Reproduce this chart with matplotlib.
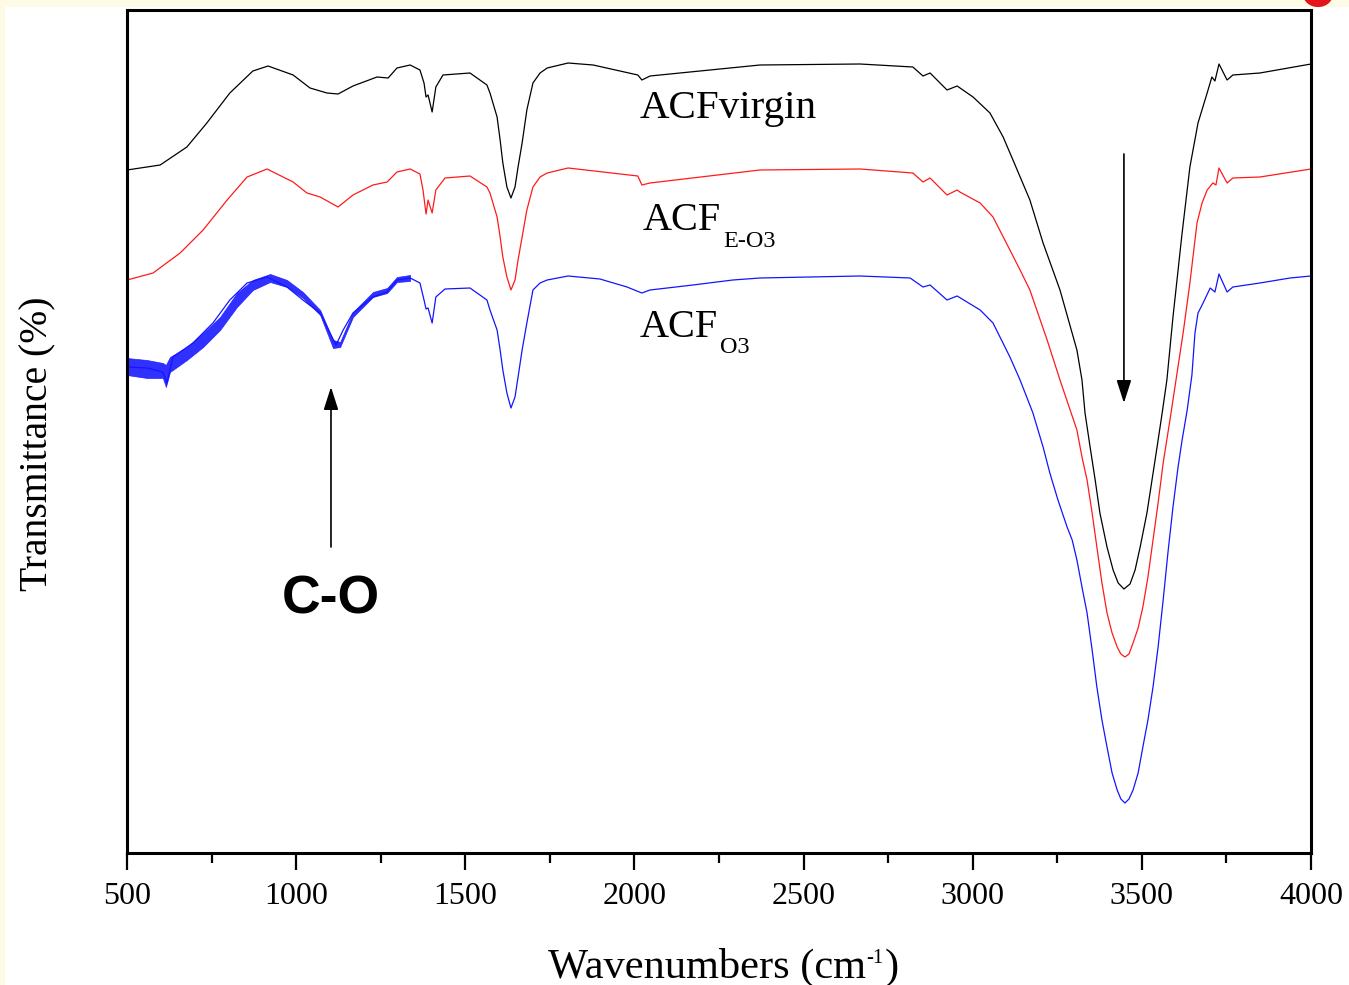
import matplotlib
matplotlib.use("Agg")
import matplotlib.pyplot as plt
from matplotlib.patches import Rectangle, Ellipse

SERIF = "Liberation Serif"
plt.rcParams["font.family"] = SERIF

# FTIR spectra (wavenumber cm-1, transmittance in arbitrary %)
virgin_w = [500, 598, 677, 736, 804, 872, 917, 991, 1041, 1091, 1124, 1168, 1239, 1272,
            1298, 1337, 1366, 1378, 1384, 1390, 1402, 1413, 1434, 1514, 1564, 1573, 1594,
            1603, 1611, 1623, 1635, 1647, 1656, 1668, 1682, 1700, 1721, 1742, 1804, 1878,
            2010, 2022, 2046, 2371, 2667, 2823, 2853, 2874, 2924, 2954, 3001, 3051, 3090,
            3119, 3169, 3208, 3258, 3308, 3323, 3332, 3347, 3362, 3376, 3397, 3415, 3430,
            3447, 3465, 3480, 3495, 3515, 3530, 3545, 3560, 3574, 3592, 3619, 3642, 3666,
            3693, 3707, 3716, 3728, 3752, 3769, 3849, 4000]
virgin_t = [68.3, 68.8, 70.6, 73.0, 76.0, 78.2, 78.7, 77.8, 76.5, 76.0, 75.9, 76.7, 77.6, 77.5,
            78.5, 78.8, 78.3, 77.0, 75.6, 75.8, 74.1, 76.6, 77.8, 78.0, 76.8, 76.0, 73.6,
            71.3, 69.0, 66.6, 65.5, 66.6, 68.6, 71.0, 74.3, 77.0, 78.0, 78.5, 79.0, 78.8,
            77.8, 77.3, 77.7, 78.8, 78.9, 78.6, 77.7, 78.0, 76.3, 76.7, 75.6, 74.0, 71.6,
            69.3, 65.3, 61.0, 56.3, 50.3, 47.3, 44.0, 40.6, 37.3, 34.0, 30.6, 28.3, 27.0,
            26.4, 26.9, 28.3, 30.6, 34.0, 37.3, 40.6, 44.0, 47.3, 53.6, 62.0, 68.6, 73.0,
            76.0, 77.6, 77.2, 78.9, 77.3, 77.8, 78.0, 78.9]

eo3_w = [500, 577, 657, 725, 796, 855, 914, 991, 1032, 1071, 1124, 1168, 1227, 1269, 1298,
         1337, 1366, 1375, 1384, 1390, 1402, 1413, 1440, 1514, 1564, 1573, 1594, 1603, 1611,
         1623, 1635, 1647, 1656, 1668, 1682, 1700, 1721, 1742, 1804, 2010, 2022, 2046, 2371,
         2667, 2823, 2853, 2874, 2924, 2954, 2962, 3022, 3060, 3110, 3140, 3169, 3220, 3258,
         3308, 3323, 3338, 3353, 3367, 3382, 3397, 3412, 3427, 3438, 3450, 3462, 3474, 3489,
         3503, 3518, 3533, 3548, 3563, 3583, 3622, 3642, 3663, 3678, 3693, 3710, 3719, 3728,
         3752, 3769, 3849, 4000]
eo3_t = [57.3, 58.0, 60.0, 62.3, 65.3, 67.6, 68.4, 67.1, 66.0, 65.6, 64.6, 65.8, 66.8, 67.1, 68.1,
         68.4, 67.9, 66.3, 63.9, 65.3, 64.0, 66.3, 67.5, 67.7, 66.6, 66.0, 63.6, 61.6, 59.6,
         57.6, 56.3, 57.3, 59.3, 61.6, 64.3, 66.6, 67.6, 68.0, 68.5, 67.7, 66.8, 67.0, 68.3,
         68.4, 68.0, 67.1, 67.5, 65.8, 66.3, 66.1, 65.0, 63.6, 60.3, 58.3, 56.3, 51.3, 47.3,
         42.3, 39.6, 37.3, 34.0, 30.6, 27.0, 24.0, 22.0, 20.6, 19.9, 19.6, 19.9, 21.0, 22.5,
         24.6, 27.6, 31.3, 35.0, 39.0, 43.3, 52.0, 57.0, 63.0, 65.0, 66.3, 67.0, 66.8, 68.5,
         67.0, 67.5, 67.6, 68.4]

o3_w = [500, 559, 606, 618, 636, 695, 754, 804, 855, 914, 973, 1020, 1071, 1100, 1118, 1139,
        1168, 1227, 1269, 1298, 1337, 1366, 1378, 1384, 1390, 1402, 1413, 1440, 1514, 1564,
        1573, 1594, 1603, 1611, 1623, 1635, 1647, 1656, 1668, 1682, 1700, 1721, 1742, 1804,
        1898, 1978, 2022, 2046, 2173, 2291, 2371, 2667, 2815, 2853, 2874, 2924, 2954, 3022,
        3060, 3110, 3140, 3178, 3208, 3228, 3252, 3279, 3294, 3308, 3323, 3338, 3353, 3367,
        3382, 3397, 3412, 3427, 3438, 3450, 3462, 3474, 3489, 3503, 3518, 3533, 3548, 3563,
        3577, 3592, 3607, 3619, 3634, 3648, 3657, 3666, 3681, 3702, 3716, 3728, 3752, 3769,
        3849, 3938, 4000]
o3_t = [48.6, 48.5, 48.1, 47.0, 49.6, 51.0, 53.0, 55.3, 57.0, 57.6, 56.6, 55.3, 54.0, 52.0, 50.8, 52.3,
        54.0, 55.6, 56.1, 57.3, 57.5, 57.0, 55.3, 54.4, 54.5, 53.0, 55.6, 56.4, 56.5, 55.3,
        54.3, 52.3, 50.3, 48.3, 46.0, 44.5, 45.6, 47.6, 50.3, 53.0, 56.3, 57.0, 57.3, 57.7,
        57.4, 56.6, 56.0, 56.3, 56.8, 57.3, 57.5, 57.7, 57.5, 56.6, 56.8, 55.3, 55.7, 54.3,
        53.0, 49.6, 47.3, 44.0, 40.6, 38.0, 35.3, 32.6, 31.3, 29.3, 26.6, 24.0, 20.3, 16.6,
        13.3, 10.6, 8.0, 6.3, 5.4, 5.0, 5.4, 6.3, 8.0, 10.6, 13.3, 16.6, 20.6, 25.3,
        30.0, 34.6, 38.6, 41.3, 44.3, 47.8, 52.0, 54.0, 55.0, 56.5, 56.1, 57.9, 56.1, 56.6,
        57.0, 57.5, 57.7]

# envelope of the noisy low-wavenumber part of the O3 spectrum
o3_noise_w = [500, 559, 606, 615, 627, 677, 725, 775, 825, 872, 923, 973, 1020, 1071, 1109,
              1130, 1168, 1227, 1269, 1298, 1337]
o3_noise_hi = [49.5, 49.3, 49.0, 48.8, 49.6, 50.6, 52.0, 53.6, 56.0, 57.3, 57.9, 57.3, 56.1,
               54.3, 51.3, 51.1, 54.1, 56.1, 56.5, 57.6, 57.8]
o3_noise_lo = [47.8, 47.5, 47.5, 46.6, 48.1, 49.3, 50.6, 52.3, 54.6, 56.3, 57.1, 56.6, 55.5,
               53.8, 50.5, 50.6, 53.6, 55.6, 56.0, 57.1, 57.2]

fig = plt.figure(figsize=(13.49, 9.85), dpi=100, facecolor="#fdfbe6")
# white slide area + the edge of a red marker peeking in at the top right
fig.patches.append(Rectangle((5 / 1349, 0), 1, 978 / 985, transform=fig.transFigure,
                             facecolor="white", edgecolor="none", zorder=-10))
fig.patches.append(Ellipse((1318 / 1349, 1.006), 30 / 1349, 26 / 985, transform=fig.transFigure,
                           facecolor="#e3141b", edgecolor="none", zorder=-9))

ax = fig.add_axes([127 / 1349, 132 / 985, 1184 / 1349, 843 / 985])
ax.set_facecolor("white")

ax.plot(virgin_w, virgin_t, color="black", lw=0.9)
ax.plot(eo3_w, eo3_t, color="#ff1a1a", lw=0.9)
ax.fill_between(o3_noise_w, o3_noise_lo, o3_noise_hi, color="#1a1aff", lw=0.5, alpha=0.9)
ax.plot(o3_w, o3_t, color="#1414ff", lw=0.9)

ax.set_xlim(500, 4000)
ax.set_ylim(0, 84.3)
ax.set_xticks(range(500, 4001, 500))
ax.set_xticks(range(750, 4000, 500), minor=True)
ax.set_yticks([])
ax.tick_params(axis="x", which="major", direction="out", length=12, width=1.6,
               labelsize=23, pad=9)
ax.tick_params(axis="x", which="minor", direction="out", length=7, width=1.6)
for s in ax.spines.values():
    s.set_linewidth(2.2)

# x label with a short hyphen in the superscript, built from three pieces
xl = ax.text(0.3556, -0.1483, "Wavenumbers (cm", transform=ax.transAxes,
             fontsize=30.5, va="baseline", clip_on=False)
sup = ax.annotate("-1", xy=(1, -0.1305), xycoords=(xl, "axes fraction"), xytext=(0.5, 0),
                  textcoords="offset points", fontsize=15, va="baseline")
ax.annotate(")", xy=(1, -0.1483), xycoords=(sup, "axes fraction"), xytext=(0.5, 0),
            textcoords="offset points", fontsize=30.5, va="baseline")

ax.set_ylabel("Transmittance (%)", fontsize=28.5)
ax.yaxis.set_label_coords(-0.060, 0.486)

# curve labels
ax.text(2016, 73.5, "ACFvirgin", fontsize=29.5, va="baseline")
t1 = ax.text(2025, 62.3, "ACF", fontsize=29, va="baseline")
ax.annotate("E-O3", xy=(1, 60.6), xycoords=(t1, "data"), xytext=(1.5, 0),
            textcoords="offset points", fontsize=17.5, va="baseline")
t2 = ax.text(2016, 51.6, "ACF", fontsize=29, va="baseline")
ax.annotate("O3", xy=(1, 50.0), xycoords=(t2, "data"), xytext=(1.5, 0),
            textcoords="offset points", fontsize=17.5, va="baseline")

# band markers
arrow = dict(arrowstyle="-|>,head_length=1.4,head_width=0.45", color="black",
             lw=1.2, shrinkA=0, shrinkB=0)
ax.annotate("", xy=(1103, 46.6), xytext=(1103, 30.6), arrowprops=arrow)
ax.annotate("", xy=(3447, 45.0), xytext=(3447, 69.9), arrowprops=arrow)
ax.text(1103, 25.4, "C-O", fontsize=38.5, fontweight="bold", family="Liberation Sans",
        ha="center", va="center")

fig.savefig("out.png", dpi=100, facecolor=fig.get_facecolor())
